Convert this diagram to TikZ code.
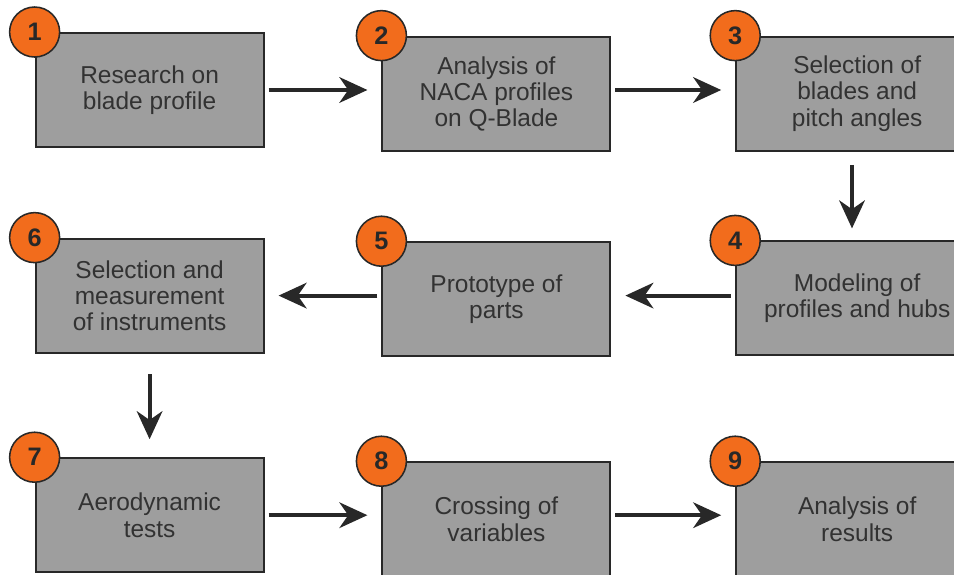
\documentclass[tikz,border=0pt]{standalone}
\usepackage{fontspec}
\setmainfont{Liberation Sans}
\usepackage{tikz}
\usetikzlibrary{positioning,arrows.meta}

\definecolor{boxgray}{RGB}{158,158,158}
\definecolor{edgegray}{RGB}{40,40,40}
\definecolor{textgray}{RGB}{50,50,50}
\definecolor{steporange}{RGB}{242,108,28}

\begin{document}
\begin{tikzpicture}[
    stepbox/.style={draw=edgegray, line width=1.4pt, fill=boxgray, text=textgray,
      minimum width=5.7cm, minimum height=2.85cm, align=center,
      font=\fontsize{17.4}{18.6}\selectfont},
    widebox/.style={stepbox, minimum width=6.05cm},
    num/.style={circle, draw=edgegray, line width=1.1pt, fill=steporange,
      minimum size=1.25cm, inner sep=0pt, text=edgegray,
      font=\fontsize{18}{18}\selectfont\bfseries},
    flow/.style={line width=2.8pt, draw=edgegray,
      -{Stealth[length=0.7cm, width=0.64cm, inset=0.22cm]},
      shorten <=0.1cm, shorten >=0.35cm}
  ]
    \useasboundingbox (0,0) rectangle (23.85,-14.35);
    % boxes
    \node[stepbox] (res) at (3.74,-2.25) {Research on\\blade profile};
    \node[stepbox] (naca) at (12.41,-2.34) {Analysis of\\NACA profiles\\on Q-Blade};
    \node[widebox] (sel) at (21.43,-2.34) {Selection of\\blades and\\pitch angles};
    \node[widebox] (model) at (21.43,-7.46) {Modeling of\\profiles and hubs};
    \node[stepbox] (proto) at (12.41,-7.48) {Prototype of\\parts};
    \node[stepbox] (instr) at (3.74,-7.39) {Selection and\\measurement\\of instruments};
    \node[stepbox] (aero) at (3.74,-12.88) {Aerodynamic\\tests};
    \node[stepbox] (cross) at (12.41,-12.98) {Crossing of\\variables};
    \node[widebox] (results) at (21.43,-12.98) {Analysis of\\results};
    % numbers
    \node[num] (n1) at (res.north west) {1};
    \node[num] (n2) at (naca.north west) {2};
    \node[num] (n3) at (sel.north west) {3};
    \node[num] (n4) at (model.north west) {4};
    \node[num] (n5) at (proto.north west) {5};
    \node[num] (n6) at (instr.north west) {6};
    \node[num] (n7) at (aero.north west) {7};
    \node[num] (n8) at (cross.north west) {8};
    \node[num] (n9) at (results.north west) {9};
    % arrows
    \draw[flow] (res.east) -- (res.east -| naca.west);
    \draw[flow] (naca.east |- res.east) -- (sel.west |- res.east);
    \draw[flow, shorten <=0.33cm, shorten >=0.3cm] ([xshift=-0.13cm]sel.south) -- ([xshift=-0.13cm]model.north);
    \draw[flow] (model.west |- instr.east) -- (proto.east |- instr.east);
    \draw[flow] (proto.west |- instr.east) -- (instr.east);
    \draw[flow, shorten <=0.52cm, shorten >=0.45cm] (instr.south) -- (aero.north -| instr.south);
    \draw[flow] (aero.east) -- (aero.east -| cross.west);
    \draw[flow] (cross.east |- aero.east) -- (results.west |- aero.east);
\end{tikzpicture}
\end{document}
